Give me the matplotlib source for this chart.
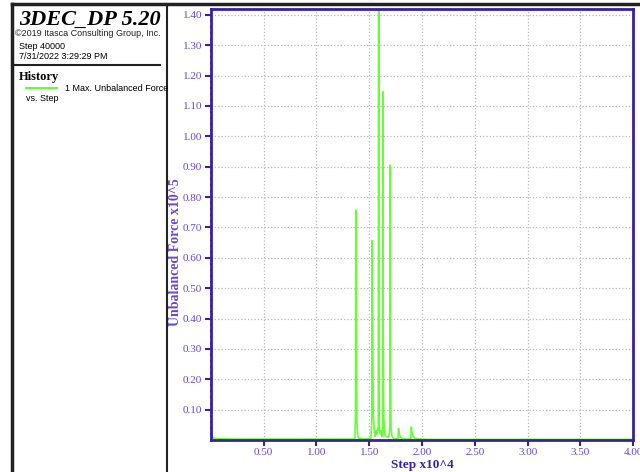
import matplotlib.pyplot as plt
from matplotlib.lines import Line2D
import numpy as np

# history data: step (x10^4) vs max unbalanced force (x10^5)
steps = [0.0, 0.01, 0.02, 0.04, 0.08, 0.2, 0.5, 1.0, 1.30, 1.365,
         1.371, 1.373, 1.375, 1.377, 1.379, 1.383, 1.39, 1.40, 1.45, 1.515,
         1.524, 1.527, 1.530, 1.533, 1.536, 1.540, 1.548, 1.556, 1.565, 1.572,
         1.580, 1.586, 1.588, 1.590, 1.592, 1.595, 1.599, 1.606, 1.614, 1.622,
         1.627, 1.629, 1.632, 1.636, 1.642, 1.650, 1.665, 1.680, 1.690, 1.696,
         1.699, 1.701, 1.704, 1.707, 1.712, 1.720, 1.740, 1.772, 1.778, 1.785,
         1.795, 1.810, 1.850, 1.893, 1.899, 1.906, 1.915, 1.930, 1.960, 2.05,
         2.5, 3.0, 3.5, 4.0]
force = [0.035, 0.015, 0.008, 0.005, 0.004, 0.003, 0.003, 0.003, 0.003, 0.003,
         0.10, 0.757, 0.553, 0.49, 0.257, 0.06, 0.02, 0.006, 0.003, 0.004,
         0.05, 0.656, 0.46, 0.38, 0.236, 0.08, 0.03, 0.012, 0.03, 0.02,
         0.035, 0.03, 0.84, 1.418, 0.30, 0.06, 0.03, 0.02, 0.03, 0.012,
         0.03, 1.147, 0.417, 0.12, 0.03, 0.015, 0.01, 0.01, 0.02, 0.05,
         0.905, 0.296, 0.147, 0.04, 0.02, 0.008, 0.004, 0.004, 0.038, 0.02,
         0.01, 0.005, 0.003, 0.004, 0.043, 0.022, 0.012, 0.006, 0.004, 0.002,
         0.002, 0.002, 0.002, 0.002]

xticks = [0.5, 1.0, 1.5, 2.0, 2.5, 3.0, 3.5, 4.0]
yticks = [0.1, 0.2, 0.3, 0.4, 0.5, 0.6, 0.7, 0.8, 0.9, 1.0, 1.1, 1.2, 1.3, 1.4]

AXCOL = '#3a1fa6'
LABCOL = '#6a48cc'
GREEN = '#66ff33'

fig = plt.figure(figsize=(6.4, 4.72), dpi=100)

ax = fig.add_axes([210.7/640, 1-440/472, (633.3-210.7)/640, (440-9)/472])
ax.plot(steps, force, color=GREEN, linewidth=1.2)
ax.set_xlim(0, 4.0)
ax.set_ylim(0, 1.419)
ax.set_xticks(xticks)
ax.set_xticklabels(['%.2f' % v for v in xticks])
ax.set_yticks(yticks)
ax.set_yticklabels(['%.2f' % v for v in yticks])
ax.set_xticks(np.arange(0.1, 4.0, 0.1), minor=True)
ax.set_yticks(np.arange(0.02, 1.42, 0.02), minor=True)
ax.grid(True, which='major', color='#b8b8b8', linestyle=':', linewidth=0.9)
for s in ax.spines.values():
    s.set_color(AXCOL)
    s.set_linewidth(2)
ax.tick_params(axis='both', which='major', colors=AXCOL, labelcolor=LABCOL,
               length=4, width=1.5, direction='out', labelsize=8, pad=2)
ax.tick_params(axis='both', which='minor', colors=AXCOL, length=2, width=1.2, direction='inout')
for lab in ax.get_xticklabels() + ax.get_yticklabels():
    lab.set_family('Liberation Serif')
ax.set_xlabel('Step x10^4', family='Liberation Serif', fontweight='bold', color=AXCOL,
              fontsize=9.5, va='center')
ax.xaxis.set_label_coords(0.5, -0.058)
ax.set_ylabel('Unbalanced Force x10^5', family='Liberation Serif', fontweight='bold',
              color=LABCOL, fontsize=10, va='center')
ax.yaxis.set_label_coords(-0.084, 0.436)

# outer frame and left info panel
def px(x, y):
    return x/640, 1-y/472

for (x0, y0, x1, y1, lw) in [(12, 4, 640, 4, 2.5), (12, 4, 12, 472, 2.5),
                             (167, 4, 167, 472, 1.5), (15, 65, 160, 65, 1.5)]:
    a, b = px(x0, y0)
    c, d = px(x1, y1)
    fig.add_artist(Line2D([a, c], [b, d], color='#222222', linewidth=lw, transform=fig.transFigure))

fig.text(*px(19, 25), '3DEC_DP 5.20', family='Liberation Serif', fontweight='bold',
         style='italic', fontsize=16, va='baseline')
fig.text(*px(15, 36), '\u00a92019 Itasca Consulting Group, Inc.', family='Liberation Sans',
         fontsize=6.5, va='baseline', color='#222222')
fig.text(*px(19, 49), 'Step 40000', family='Liberation Sans', fontsize=6.5, va='baseline')
fig.text(*px(19, 59), '7/31/2022 3:29:29 PM', family='Liberation Sans', fontsize=6.5, va='baseline')
fig.text(*px(19, 80), 'History', family='Liberation Serif', fontweight='bold', fontsize=9,
         va='baseline')
a, b = px(26, 88)
c, d = px(57, 88)
fig.add_artist(Line2D([a, c], [b, d], color=GREEN, linewidth=1.5, transform=fig.transFigure))
fig.text(*px(65, 91), '1 Max. Unbalanced Force', family='Liberation Sans', fontsize=6.5,
         va='baseline')
fig.text(*px(26, 101), 'vs. Step', family='Liberation Sans', fontsize=6.5, va='baseline')

fig.savefig('out.png', dpi=100)
